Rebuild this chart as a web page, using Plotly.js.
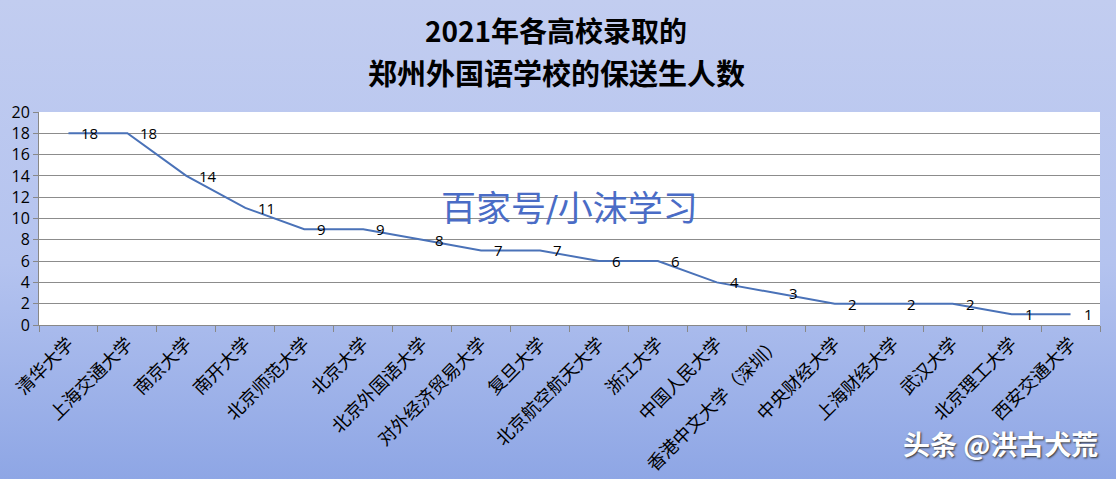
<!DOCTYPE html>
<html>
<head>
<meta charset="utf-8">
<script src="https://cdn.plot.ly/plotly-3.0.1.min.js"></script>
<style>
html,body{margin:0;padding:0;}
body{width:1116px;height:479px;background:linear-gradient(to bottom,#c2cdf0 0%,#b4c3ef 55%,#8ea6e5 100%);}
#chart{width:1116px;height:479px;}
</style>
</head>
<body>
<div id="chart"></div>
<script>
const categories = ["清华大学","上海交通大学","南京大学","南开大学","北京师范大学","北京大学","北京外国语大学","对外经济贸易大学","复旦大学","北京航空航天大学","浙江大学","中国人民大学","香港中文大学（深圳）","中央财经大学","上海财经大学","武汉大学","北京理工大学","西安交通大学"];
const students = [18,18,14,11,9,9,8,7,7,6,6,4,3,2,2,2,1,1];
const yTicks = [0,2,4,6,8,10,12,14,16,18,20];
const titleLine1 = "2021年各高校录取的";
const titleLine2 = "郑州外国语学校的保送生人数";
const watermark1 = "百家号/小沫学习";
const watermark2 = "头条 @洪古犬荒";

const trace = {
  x: categories,
  y: students,
  type: 'scatter',
  mode: 'lines',
  line: {color: '#4a72b8', width: 2},
  hoverinfo: 'none'
};

const labelAnns = categories.map((c, i) => ({
  x: c, y: students[i], xref: 'x', yref: 'y',
  text: String(students[i]), showarrow: false,
  xanchor: 'left', yanchor: 'middle', xshift: 11,
  font: {family: 'Open Sans, sans-serif', size: 15, color: '#000'}
}));

const layout = {
  width: 1116, height: 479,
  paper_bgcolor: 'rgba(0,0,0,0)',
  plot_bgcolor: '#ffffff',
  margin: {l: 39, r: 16, t: 112, b: 154},
  showlegend: false,
  xaxis: {
    type: 'category',
    tickangle: -45,
    tickson: 'boundaries',
    ticks: 'outside', ticklen: 6, tickcolor: '#888',
    showline: true, linecolor: '#888', linewidth: 1,
    showgrid: false,
    tickfont: {family: 'Noto Sans CJK SC, sans-serif', size: 18, color: '#000'},
    range: [-0.5, categories.length - 0.5],
    fixedrange: true
  },
  yaxis: {
    range: [0, 20],
    tickvals: yTicks,
    ticks: 'outside', ticklen: 5, tickcolor: '#888',
    showline: true, linecolor: '#888', linewidth: 1,
    showgrid: true, gridcolor: '#8c8c8c', gridwidth: 1,
    zeroline: false,
    tickfont: {family: 'Open Sans, sans-serif', size: 16, color: '#000'},
    fixedrange: true
  },
  annotations: [
    {text: '<b>' + titleLine1 + '</b>', xref: 'paper', yref: 'paper', x: (556 - 39) / 1061, y: 1.0 + (112 - 30) / 213, xanchor: 'center', yanchor: 'middle', showarrow: false,
     font: {family: 'Noto Sans CJK SC, sans-serif', size: 28, color: '#000'}},
    {text: '<b>' + titleLine2 + '</b>', xref: 'paper', yref: 'paper', x: (556 - 39) / 1061, y: 1.0 + (112 - 72) / 213, xanchor: 'center', yanchor: 'middle', showarrow: false,
     font: {family: 'Noto Sans CJK SC, sans-serif', size: 29, color: '#000'}},
    {text: watermark1, xref: 'paper', yref: 'paper', x: (569 - 39) / 1061, y: (325 - 209) / 213, xanchor: 'center', yanchor: 'middle', showarrow: false,
     font: {family: 'DejaVu Serif, Noto Sans CJK SC, serif', size: 35, color: '#4a6cc6'}},
    {text: '<b>' + watermark2 + '</b>', xref: 'paper', yref: 'paper', x: 1.0, y: (325 - 443) / 213, xanchor: 'right', yanchor: 'middle', showarrow: false,
     font: {family: 'Noto Sans CJK SC, sans-serif', size: 27, color: '#ffffff', shadow: '1px 1px 2px #333'}}
  ].concat(labelAnns)
};

Plotly.newPlot('chart', [trace], layout, {displayModeBar: false, staticPlot: true});
</script>
</body>
</html>
